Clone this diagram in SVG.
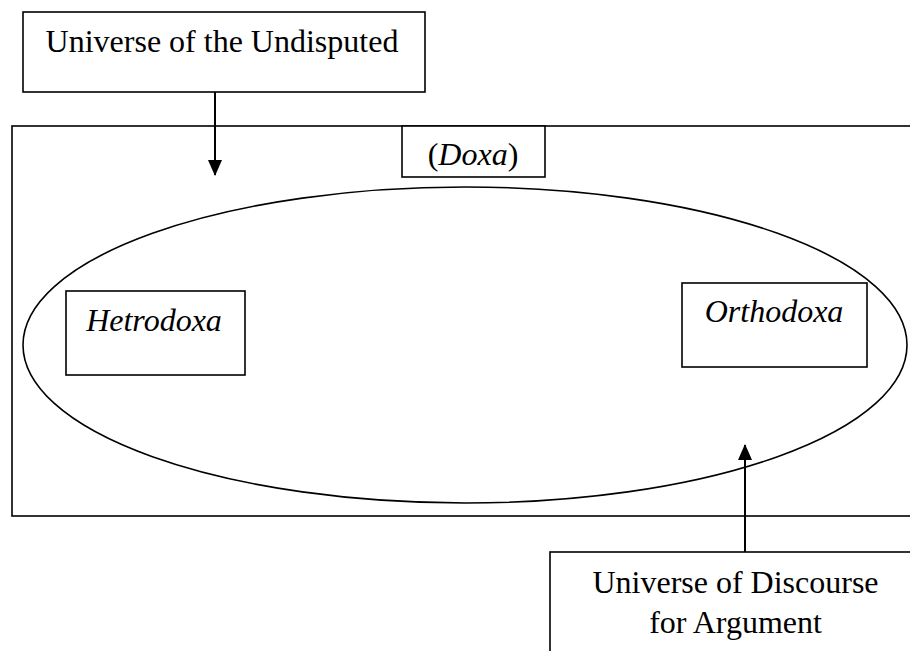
<svg xmlns="http://www.w3.org/2000/svg" width="910" height="651" viewBox="0 0 910 651">
<style>
.box{fill:#fff;stroke:#000;stroke-width:1.6}
.shape{fill:none;stroke:#000;stroke-width:1.6}
.t{font-family:"Liberation Serif","Times New Roman",serif;font-size:32px;fill:#000;text-anchor:middle}
.i{font-style:italic}
.conn{stroke:#000;stroke-width:2;fill:none}
</style>
<defs>
<marker id="ah" markerWidth="8" markerHeight="7" refX="7.5" refY="3.5" orient="auto" markerUnits="strokeWidth">
<path d="M0,0 L8,3.5 L0,7 z" fill="#000"/>
</marker>
</defs>
<rect width="910" height="651" fill="#fff"/>
<g id="doxa-region">
<rect class="shape" x="12" y="126" width="910" height="390"/>
</g>
<g id="doxa-label">
<rect class="box" x="402" y="126" width="143" height="51"/>
<text class="t" x="473" y="165">(<tspan class="i">Doxa</tspan>)</text>
</g>
<g id="discourse-ellipse">
<ellipse class="shape" cx="465" cy="345" rx="442" ry="158"/>
</g>
<g id="hetrodoxa">
<rect class="box" x="66" y="291" width="179" height="84"/>
<text class="t i" x="154" y="331">Hetrodoxa</text>
</g>
<g id="orthodoxa">
<rect class="box" x="682" y="283" width="185" height="84"/>
<text class="t i" x="774" y="322">Orthodoxa</text>
</g>
<g id="undisputed">
<rect class="box" x="23" y="12" width="402" height="80"/>
<text class="t" x="222" y="52">Universe of the Undisputed</text>
</g>
<g id="argument">
<rect class="box" x="550" y="552" width="380" height="110"/>
<text class="t" x="735.5" y="593">Universe of Discourse</text>
<text class="t" x="735.5" y="633">for Argument</text>
</g>
<g id="connectors">
<line class="conn" x1="215" y1="92" x2="215" y2="175" marker-end="url(#ah)"/>
<line class="conn" x1="745" y1="552" x2="745" y2="445" marker-end="url(#ah)"/>
</g>
</svg>
